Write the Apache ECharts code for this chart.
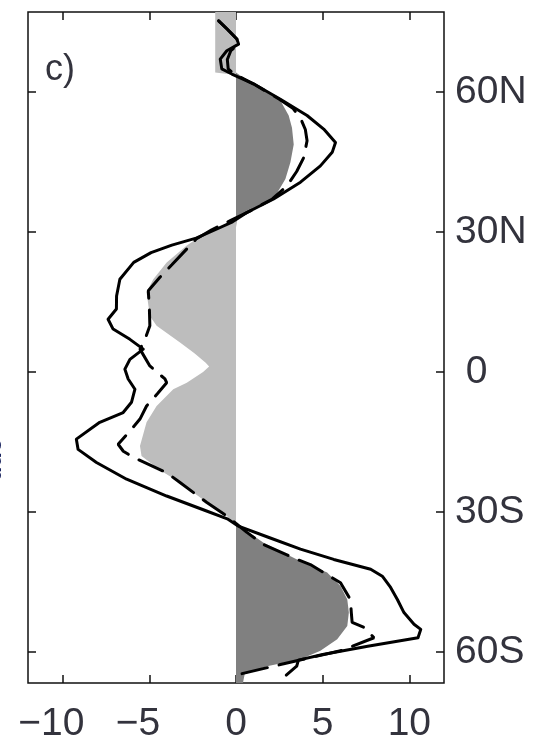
<!DOCTYPE html>
<html><head><meta charset="utf-8">
<script src="https://cdn.jsdelivr.net/npm/echarts@6/dist/echarts.min.js"></script>
<style>html,body{margin:0;padding:0;background:#fff;overflow:hidden}#c{width:533px;height:737px}</style>
</head><body><div id="c"></div>
<script>
// tick values and labels
const xTicks = [-10, -5, 0, 5, 10];
const latTicks = [-60, -30, 0, 30, 60];
const latTickLabels = ['60S', '30S', ' 0', '30N', '60N'];

// solid curve: latitude and value
const solidLat = [75.3,73.5,71.4,70.3,68.9,67.1,65.0,63.9,61.8,58.5,55.0,52.1,49.2,47.1,44.2,40.7,37.1,34.2,32.2,30.5,28.7,27.2,25.6,23.5,19.9,16.3,13.5,11.3,9.2,7.0,4.9,2.7,0.6,-1.5,-3.7,-6.5,-8.7,-10.8,-14.4,-16.6,-19.4,-23.0,-26.6,-29.6,-31.5,-33.0,-35.5,-38.0,-40.2,-42.3,-43.8,-46.2,-48.8,-51.6,-54.1,-55.2,-57.0,-58.8,-60.6,-61.8,-63.1,-65.0];
const solidVal = [-1.0,-0.5,0.05,0.15,-0.53,-0.91,-0.82,-0.24,1.01,2.56,4.10,5.06,5.74,5.55,4.87,3.72,2.17,0.63,-0.2,-1.2,-2.3,-3.7,-4.9,-5.9,-6.7,-6.89,-6.9,-7.38,-7.09,-6.12,-5.35,-6.12,-6.41,-6.22,-5.83,-6.03,-6.51,-7.86,-9.21,-9.11,-8.05,-6.31,-4.0,-1.85,-0.5,0.1,1.9,3.72,5.64,7.77,8.44,8.92,9.31,9.69,10.27,10.66,10.5,7.6,5.0,3.6,3.5,2.9];

// dashed curve
const dashLat = [75.3,73.5,71.4,70.3,68.9,67.0,65.0,63.9,61.8,58.5,56.5,54.2,52.0,49.6,46.0,43.0,39.9,37.1,34.5,32.5,30.5,28.5,25.6,23.0,20.3,17.4,14.0,9.9,6.5,4.9,1.3,-1.5,-2.3,-4.5,-7.3,-10.1,-13.0,-15.5,-17.0,-18.3,-21.6,-23.7,-28.0,-30.9,-32.5,-34.4,-37.0,-40.2,-41.3,-45.2,-48.8,-51.5,-53.7,-54.8,-57.0,-59.8,-61.0,-62.8,-65.0];
const dashVal = [-1.0,-0.5,0.05,0.15,-0.3,-0.5,-0.45,-0.1,1.0,2.5,3.3,3.75,4.0,4.1,3.91,3.5,2.94,2.1,0.8,-0.3,-1.4,-2.3,-3.04,-3.7,-4.39,-5.06,-5.0,-4.97,-5.3,-5.54,-4.97,-4.1,-4.0,-4.5,-5.16,-5.54,-6.2,-6.8,-6.5,-5.93,-4.0,-3.23,-1.68,-0.53,0.0,0.63,1.59,3.52,4.29,6.03,6.6,6.65,6.7,7.4,7.96,6.03,4.6,2.5,0.0];

// shaded curve
const fillLat = [77.2,64.2,63.7,63.0,61.8,58.2,55.0,52.4,48.8,45.0,41.4,37.1,34.9,32.8,31.0,29.5,27.1,23.5,19.9,17.1,12.0,9.9,6.3,4.0,2.0,1.2,0.0,-2.3,-3.7,-7.3,-10.8,-15.9,-18.0,-21.0,-23.7,-28.0,-30.9,-32.5,-36.6,-40.2,-43.0,-45.9,-48.8,-51.6,-54.5,-57.3,-59.8,-61.6,-63.1,-64.8,-66.7];
const fillVal = [-1.2,-1.2,0.2,0.5,1.0,2.56,3.04,3.23,3.33,3.14,2.85,2.17,1.0,0.05,-1.0,-1.9,-2.84,-4.0,-4.77,-5.16,-4.97,-4.58,-3.23,-2.4,-1.75,-1.55,-1.9,-2.84,-3.62,-4.58,-5.16,-5.54,-5.45,-4.4,-3.23,-1.68,-0.53,0.0,1.59,3.52,5.26,6.03,6.42,6.51,6.42,5.84,4.87,3.72,1.79,0.5,0.4];

const FONT = 'Liberation Sans';
const TXT = '#33333d';
const LAT_MIN = -66.7, LAT_MAX = 77.2;

const chart = echarts.init(document.getElementById('c'), null, {renderer: 'canvas'});

const tickStyle = {color: '#111', width: 1.5};
const noLine = {show: false, onZero: false};

chart.setOption({
  animation: false,
  title: {
    text: 'c)', left: 45, top: 52, padding: 0,
    textStyle: {fontSize: 36, fontWeight: 'normal', color: TXT, fontFamily: FONT}
  },
  graphic: [{
    type: 'text', x: 6, y: 460, rotation: Math.PI / 2, silent: true, z: 10,
    style: {text: 'ude', fontSize: 24, fontWeight: 'bold', fontFamily: FONT, fill: '#1b2560', align: 'center', verticalAlign: 'bottom'}
  }],
  grid: {left: 28, right: 89, top: 12, bottom: 54, show: true, borderColor: '#111', borderWidth: 1.5,
         backgroundColor: 'transparent', containLabel: false, outerBoundsMode: 'none'},
  xAxis: [{
    type: 'value', min: -12, max: 12, position: 'bottom',
    axisLine: noLine, splitLine: {show: false},
    axisTick: {show: true, inside: true, length: 8, customValues: xTicks, lineStyle: tickStyle},
    axisLabel: {
      show: true, customValues: xTicks, margin: 22, fontSize: 39, fontFamily: FONT, color: TXT,
      formatter: v => v < 0 ? '\u2212' + Math.abs(v) + '{h|\u2212}' : String(v),
      rich: {h: {color: 'rgba(0,0,0,0)', fontSize: 39, fontFamily: FONT}}
    }
  }, {
    type: 'value', min: -12, max: 12, position: 'top',
    axisLine: noLine, splitLine: {show: false},
    axisTick: {show: true, inside: true, length: 8, customValues: xTicks, lineStyle: tickStyle},
    axisLabel: {show: false}
  }],
  yAxis: [{
    type: 'value', min: LAT_MIN, max: LAT_MAX, position: 'left',
    axisLine: noLine, splitLine: {show: false},
    axisTick: {show: true, inside: true, length: 8, customValues: latTicks, lineStyle: tickStyle},
    axisLabel: {show: false}
  }, {
    type: 'value', min: LAT_MIN, max: LAT_MAX, position: 'right',
    axisLine: noLine, splitLine: {show: false},
    axisTick: {show: true, inside: true, length: 8, customValues: latTicks, lineStyle: tickStyle},
    axisLabel: {
      show: true, customValues: latTicks, margin: 11, fontSize: 39, fontFamily: FONT, color: TXT, align: 'left',
      formatter: v => latTickLabels[latTicks.indexOf(Math.round(v))]
    }
  }],
  series: [{
    type: 'custom', coordinateSystem: 'cartesian2d', xAxisIndex: 0, yAxisIndex: 0,
    data: [[0, 0]], silent: true, z: 1,
    renderItem: (params, api) => {
      const n = fillLat.length;
      const pos = fillLat.map((l, i) => api.coord([Math.max(fillVal[i], 0), l]));
      const neg = fillLat.map((l, i) => api.coord([Math.min(fillVal[i], 0), l]));
      const a = api.coord([0, fillLat[n - 1]]);
      const b = api.coord([0, fillLat[0]]);
      return {type: 'group', children: [
        {type: 'polygon', shape: {points: neg.concat([a, b])}, style: {fill: '#bdbdbd'}},
        {type: 'polygon', shape: {points: pos.concat([a, b])}, style: {fill: '#808080'}}
      ]};
    }
  }, {
    type: 'line', xAxisIndex: 0, yAxisIndex: 0, z: 3,
    data: dashLat.map((l, i) => [dashVal[i], l]),
    showSymbol: false, symbol: 'none', smooth: false,
    lineStyle: {color: '#000', width: 3, type: [26, 12], cap: 'round'}
  }, {
    type: 'line', xAxisIndex: 0, yAxisIndex: 0, z: 4,
    data: solidLat.map((l, i) => [solidVal[i], l]),
    showSymbol: false, symbol: 'none', smooth: false,
    lineStyle: {color: '#000', width: 3, cap: 'round', join: 'round'}
  }]
});
</script>
</body></html>
